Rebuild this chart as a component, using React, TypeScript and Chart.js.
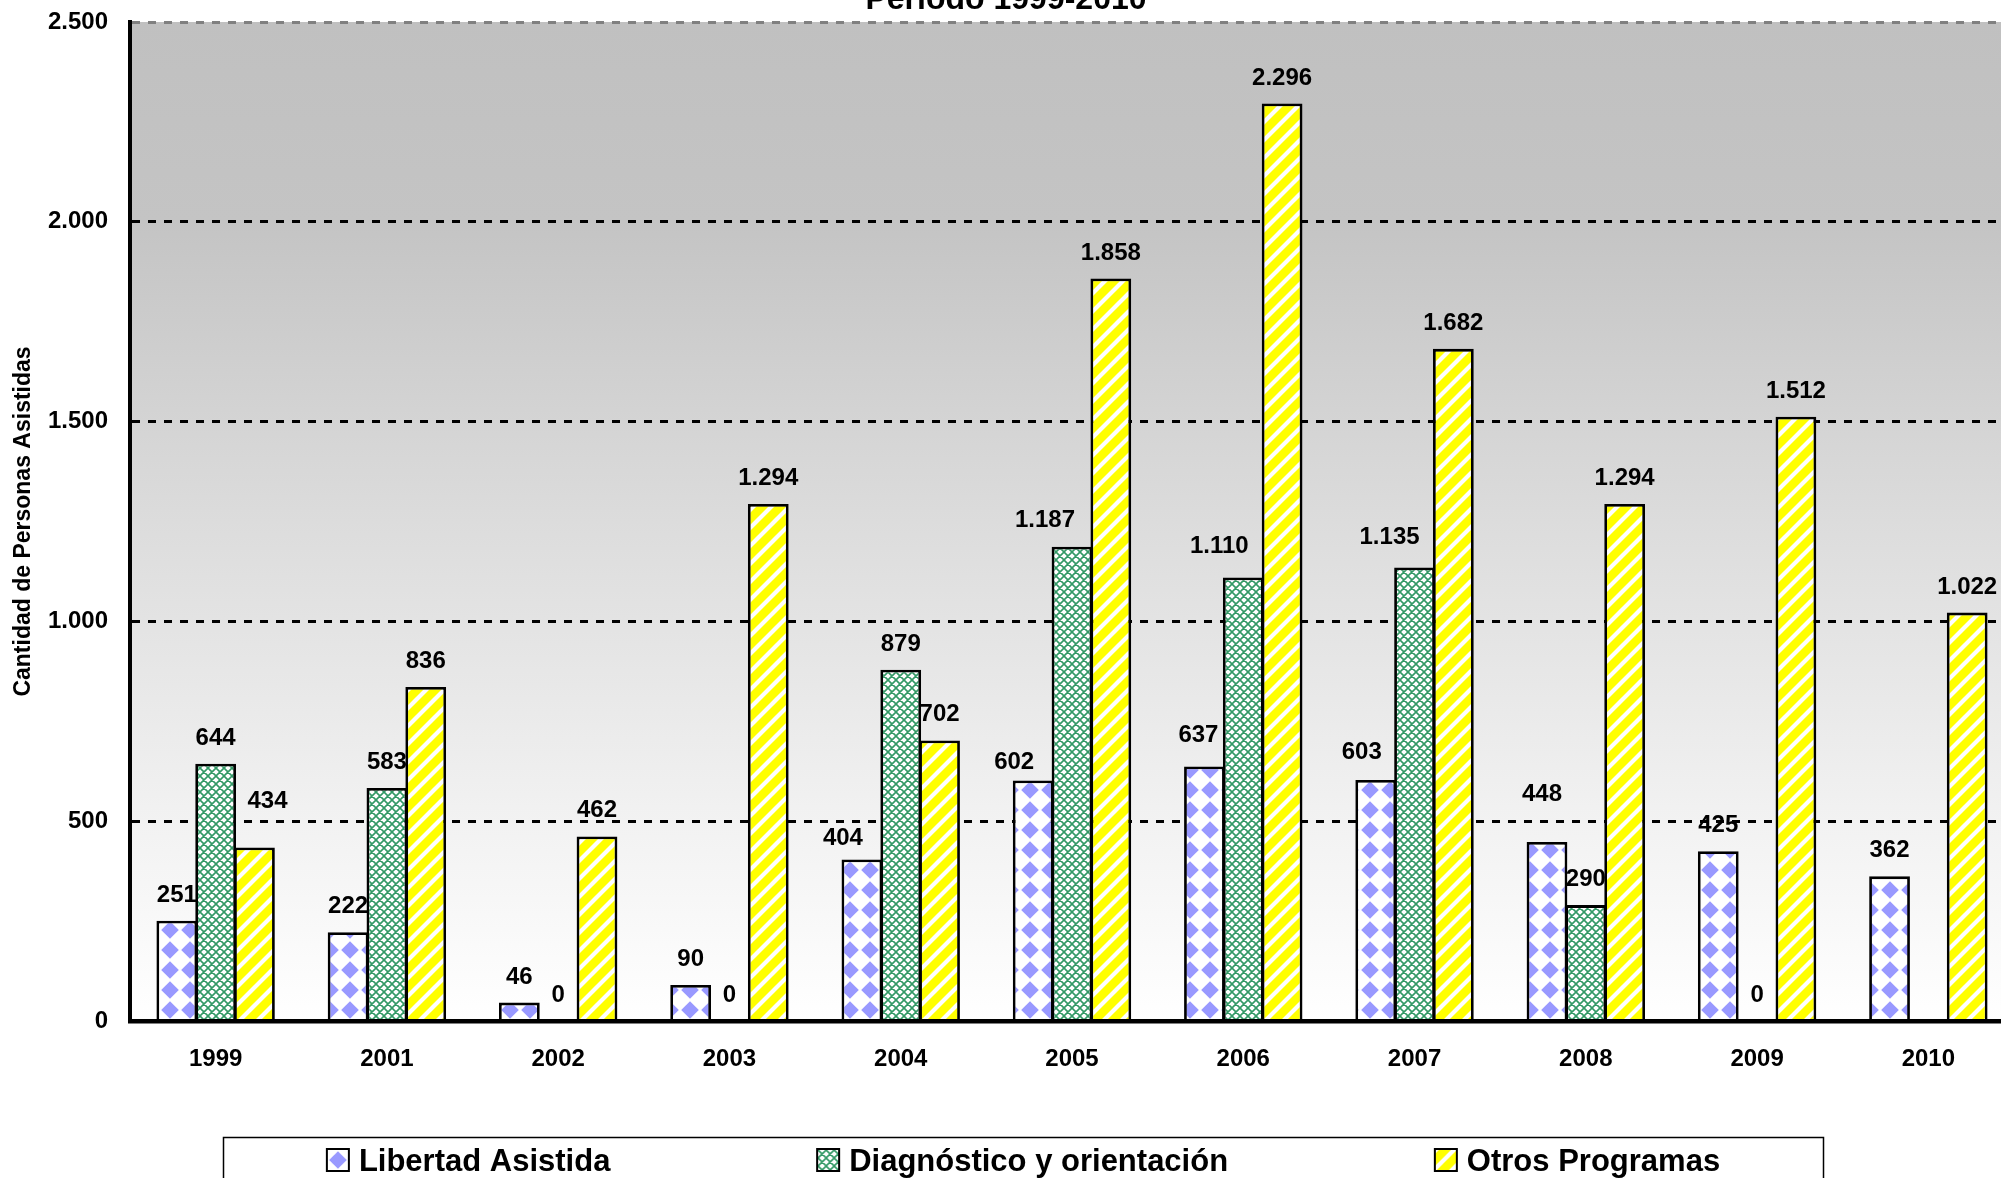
import React, { useEffect, useRef } from "react";
import { Chart, registerables } from "chart.js";

Chart.register(...registerables);

// ---------- data ----------
const categories = ["1999", "2001", "2002", "2003", "2004", "2005", "2006", "2007", "2008", "2009", "2010"];
const libertadAsistida = [251, 222, 46, 90, 404, 602, 637, 603, 448, 425, 362];
const diagnosticoOrientacion: (number | null)[] = [644, 583, 0, 0, 879, 1187, 1110, 1135, 290, 0, null];
const otrosProgramas = [434, 836, 462, 1294, 702, 1858, 2296, 1682, 1294, 1512, 1022];
const seriesNames = ["Libertad Asistida", "Diagnóstico y orientación", "Otros Programas"];
const yTicks = [0, 500, 1000, 1500, 2000, 2500];
const titleText = "Período 1999-2010";
const yAxisTitle = "Cantidad de Personas Asistidas";

// ---------- styling ----------
const FONT = 'Arial, "Liberation Sans", sans-serif';
const BLUE = "#9999ff";
const GREEN = "#339966";
const YELLOW = "#ffff00";

// manual nudges of a few value labels (datasetIndex-index -> [dx, dy])
const labelNudges: Record<string, [number, number]> = {
  "2-0": [13, -21],
  "0-4": [-19, 4],
  "0-5": [-19, 8],
  "1-5": [-27, -1],
  "0-6": [-6, -5],
  "1-6": [-24, -5],
  "0-7": [-14, -2],
  "1-7": [-25, -4],
  "0-8": [-5, -22],
};

function fmt(v: number): string {
  return String(v).replace(/\B(?=(\d{3})+(?!\d))/g, ".");
}

function makeTile(size: number, draw: (c: CanvasRenderingContext2D) => void): HTMLCanvasElement {
  const c = document.createElement("canvas");
  c.width = size;
  c.height = size;
  const x = c.getContext("2d")!;
  draw(x);
  return c;
}

function diamondTile() {
  const s = 20;
  return makeTile(s, (c) => {
    c.fillStyle = "#ffffff";
    c.fillRect(0, 0, s, s);
    c.fillStyle = BLUE;
    const h = s / 2;
    const r = 8.8;
    c.beginPath();
    c.moveTo(h, h - r);
    c.lineTo(h + r, h);
    c.lineTo(h, h + r);
    c.lineTo(h - r, h);
    c.closePath();
    c.fill();
  });
}

function meshTile() {
  const s = 8;
  return makeTile(s, (c) => {
    c.fillStyle = "#ffffff";
    c.fillRect(0, 0, s, s);
    c.strokeStyle = GREEN;
    c.lineWidth = 1.6;
    c.beginPath();
    for (let k = -1; k <= 1; k++) {
      c.moveTo(-2 + k * s, -2);
      c.lineTo(s + 2 + k * s, s + 2);
      c.moveTo(-2 + k * s, s + 2);
      c.lineTo(s + 2 + k * s, -2);
    }
    c.stroke();
  });
}

function stripeTile() {
  const s = 18;
  return makeTile(s, (c) => {
    c.fillStyle = YELLOW;
    c.fillRect(0, 0, s, s);
    c.strokeStyle = "#ffffff";
    c.lineWidth = 4.2;
    c.beginPath();
    for (let k = -1; k <= 1; k++) {
      c.moveTo(-2 + k * s, s + 2);
      c.lineTo(s + 2 + k * s, -2);
    }
    c.stroke();
  });
}

export default function App() {
  const ref = useRef<HTMLCanvasElement | null>(null);

  useEffect(() => {
    const canvas = ref.current;
    if (!canvas) return;
    const ctx = canvas.getContext("2d")!;
    const tiles = [diamondTile(), meshTile(), stripeTile()];
    const pats = tiles.map((t) => ctx.createPattern(t, "repeat")!);

    const decor = {
      id: "decor",
      beforeDraw(chart: any) {
        const { ctx: c, chartArea: a } = chart;
        const g = c.createLinearGradient(0, a.top, 0, a.bottom);
        g.addColorStop(0, "#c0c0c0");
        g.addColorStop(0.2, "#c4c4c4");
        g.addColorStop(0.5, "#dcdcdc");
        g.addColorStop(0.8, "#f2f2f2");
        g.addColorStop(1, "#ffffff");
        c.save();
        c.fillStyle = g;
        c.fillRect(a.left, a.top, a.right - a.left, a.bottom - a.top);
        c.restore();
      },
      afterDatasetsDraw(chart: any) {
        const c: CanvasRenderingContext2D = chart.ctx;
        c.save();
        c.font = `bold 24px ${FONT}`;
        c.fillStyle = "#000";
        c.textAlign = "center";
        c.textBaseline = "alphabetic";
        chart.data.datasets.forEach((ds: any, di: number) => {
          const meta = chart.getDatasetMeta(di);
          meta.data.forEach((el: any, i: number) => {
            const v = ds.data[i];
            if (v === null || v === undefined) return;
            const n = labelNudges[`${di}-${i}`] || [0, 0];
            c.fillText(fmt(v), el.x + n[0], el.y - 19 + n[1]);
          });
        });
        c.restore();
      },
      afterDraw(chart: any) {
        const c: CanvasRenderingContext2D = chart.ctx;
        const a = chart.chartArea;
        c.save();
        // title (cut at top)
        c.font = `bold 32px ${FONT}`;
        c.fillStyle = "#000";
        c.textAlign = "center";
        c.textBaseline = "alphabetic";
        c.fillText(titleText, 1006, 9);
        // y axis title
        c.save();
        c.translate(24, (a.top + a.bottom) / 2);
        c.rotate(-Math.PI / 2);
        c.font = `bold 23px ${FONT}`;
        c.textBaseline = "middle";
        c.fillText(yAxisTitle, 0, 0);
        c.restore();
        // legend box
        const bx = 223.5, by = 1137.5, bw = 1600, bh = 80;
        c.strokeStyle = "#000";
        c.lineWidth = 1.5;
        c.strokeRect(bx, by, bw, bh);
        c.font = `bold 31px ${FONT}`;
        const mk = 22, gapMT = 10;
        const widths = seriesNames.map((s) => mk + gapMT + c.measureText(s).width);
        const total = widths.reduce((p, q) => p + q, 0);
        const gap = (bw - total) / seriesNames.length;
        let x = bx + gap / 2;
        const my = 1149;
        seriesNames.forEach((s, i) => {
          const p = pats[i];
          try {
            p.setTransform(new DOMMatrix().translate(x + 1, my + 1));
          } catch (e) {}
          c.fillStyle = p;
          c.fillRect(x, my, mk, mk);
          c.strokeStyle = "#000";
          c.lineWidth = 2;
          c.strokeRect(x, my, mk, mk);
          c.fillStyle = "#000";
          c.textAlign = "left";
          c.textBaseline = "alphabetic";
          c.fillText(s, x + mk + gapMT, 1171);
          try {
            p.setTransform(new DOMMatrix());
          } catch (e) {}
          x += widths[i] + gap;
        });
        c.restore();
      },
    };

    const series = [libertadAsistida, diagnosticoOrientacion, otrosProgramas];
    const chart = new Chart(canvas, {
      type: "bar",
      data: {
        labels: categories,
        datasets: series.map((d, i) => ({
          label: seriesNames[i],
          data: d,
          backgroundColor: pats[i],
          borderColor: "#000",
          borderWidth: 2.8,
          borderSkipped: "start",
          barPercentage: 1.05,
          categoryPercentage: 0.68,
        })),
      },
      options: {
        animation: false,
        responsive: false,
        devicePixelRatio: 1,
        layout: { padding: { top: 22, left: 0, right: 26, bottom: 97 } },
        plugins: {
          legend: { display: false },
          title: { display: false },
          tooltip: { enabled: false },
        },
        scales: {
          x: {
            grid: { display: false, drawTicks: false },
            border: { display: true, color: "#000", width: 4.5, z: 1 },
            ticks: {
              font: { family: FONT, size: 24, weight: "bold" },
              color: "#000",
              padding: 24,
              maxRotation: 0,
              autoSkip: false,
            },
            afterFit: (s: any) => {
              s.height = 60;
              s.paddingLeft = 0;
              s.paddingRight = 0;
            },
          },
          y: {
            min: 0,
            max: 2500,
            afterBuildTicks: (s: any) => {
              s.ticks = yTicks.map((v) => ({ value: v }));
            },
            grid: {
              color: (c: any) =>
                c.tick && c.tick.value === 2500 ? "#808080" : c.tick && c.tick.value === 0 ? "rgba(0,0,0,0)" : "#000",
              lineWidth: 3,
              drawTicks: false,
            },
            border: { display: true, color: "#000", width: 4, dash: [8, 8], z: 1 },
            ticks: {
              callback: (v: any) => fmt(Number(v)),
              font: { family: FONT, size: 24, weight: "bold" },
              color: "#000",
              padding: 22,
            },
            afterFit: (s: any) => {
              s.width = 130;
              s.paddingTop = 0;
              s.paddingBottom = 0;
            },
          },
        },
      } as any,
      plugins: [decor],
    });

    return () => {
      chart.destroy();
    };
  }, []);

  return (
    <div
      style={{
        position: "fixed",
        left: 0,
        top: 0,
        width: 2001,
        height: 1178,
        overflow: "hidden",
        background: "#ffffff",
      }}
    >
      <canvas ref={ref} width={2040} height={1178} style={{ display: "block", width: 2040, height: 1178 }} />
    </div>
  );
}
